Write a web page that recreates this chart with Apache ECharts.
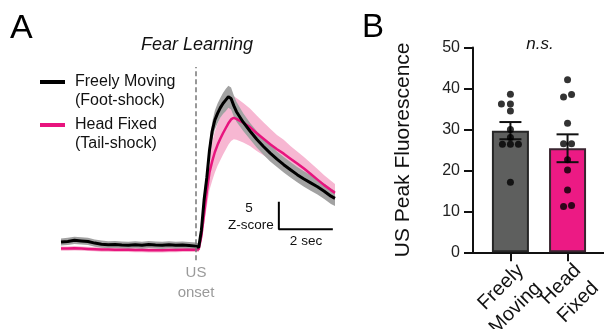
<!DOCTYPE html>
<html>
<head>
<meta charset="utf-8">
<script src="https://cdn.jsdelivr.net/npm/echarts@6/dist/echarts.min.js"></script>
<style>
html,body{margin:0;padding:0;background:#fff;}
#chart{width:604px;height:329px;}
</style>
</head>
<body>
<div id="chart"></div>
<script>
// ---------- Panel A data (time in s relative to US onset, Z-score) ----------
const timeSec = [-5,-4.75,-4.5,-4.25,-4,-3.75,-3.5,-3.25,-3,-2.75,-2.5,-2.25,-2,-1.75,-1.5,-1.25,-1,-0.75,-0.5,-0.25,0,
  0.1,0.2,0.3,0.4,0.5,0.6,0.7,0.8,0.9,1.0,1.1,1.2,1.3,1.4,1.5,
  1.75,2,2.25,2.5,2.75,3,3.25,3.5,3.75,4,4.25,4.5,4.75,5,5.15];
const freelyMean = [0.9,1.0,1.2,1.1,1.0,0.7,0.5,0.4,0.45,0.35,0.3,0.4,0.3,0.45,0.35,0.3,0.4,0.3,0.35,0.25,0.15,
  -0.1,3,8.5,12.5,17.5,21,23,24.2,25.2,26,26.6,27.2,26.9,25.6,24.5,
  22.6,21.0,19.5,18.2,17.0,15.9,14.9,14.0,13.1,12.3,11.6,10.9,10.1,9.2,8.8];
const freelySem = [0.65,0.65,0.65,0.65,0.65,0.65,0.65,0.65,0.65,0.65,0.65,0.65,0.65,0.65,0.65,0.65,0.65,0.65,0.65,0.65,0.65,
  0.7,1.3,1.5,1.5,1.5,1.6,1.7,1.8,1.8,1.9,2.0,2.0,2.0,1.9,1.8,
  1.6,1.5,1.5,1.5,1.5,1.4,1.4,1.4,1.4,1.4,1.4,1.4,1.4,1.4,1.4];
const headMean = [-0.3,-0.3,-0.25,-0.3,-0.35,-0.4,-0.45,-0.45,-0.5,-0.5,-0.5,-0.55,-0.55,-0.6,-0.6,-0.6,-0.55,-0.55,-0.5,-0.5,-0.5,
  -0.4,2,6,10,13.5,15.5,17.2,18.5,19.6,20.6,21.5,22.4,23.1,23.4,23.2,
  22.5,21.7,20.6,19.6,18.6,17.7,16.9,16.0,15.1,14.2,13.2,12.2,11.2,10.3,9.8];
const headSem = [0.4,0.4,0.4,0.4,0.4,0.4,0.4,0.4,0.4,0.4,0.4,0.4,0.4,0.4,0.4,0.4,0.4,0.4,0.4,0.4,0.4,
  0.5,1.2,2.0,2.7,3.2,3.5,3.7,3.8,3.9,3.9,3.9,3.9,3.9,3.9,3.8,
  3.6,3.4,3.2,3.0,2.8,2.6,2.5,2.3,2.2,2.1,2.0,1.9,1.8,1.7,1.6];

// ---------- Panel B data ----------
const groups = ['Freely\nMoving', 'Head\nFixed'];
const peakMean = [29.7, 25.4];
const peakSem = [2.1, 3.4];
const freelyDots = [38.6, 36.2, 36.2, 34.5, 30.0, 28.0, 26.4, 26.4, 26.4, 17.1];
const headDots = [42.1, 37.9, 38.5, 31.5, 26.5, 26.5, 22.6, 20.1, 15.2, 11.2, 11.4];
const yTicksB = [0, 10, 20, 30, 40, 50];

// jitter (visual style only, px)
const freelyJitter = [0, -9, 0, 0, 0, 0, -8, 0, 8, 0];
const headJitter = [0, -4, 4, 0, -4, 4, 0, 0, 0, -4, 4];

const FONT = '"Liberation Sans", Arial, Helvetica, sans-serif';
const PINK = '#e8147e';
const PINK_BAND = '#f7b7d2';
const GREY_BAND = '#a2a2a2';

const pairs = (ys) => timeSec.map((t, i) => [t, ys[i]]);

// shaded mean ± SEM band as one polygon, placed through the axis scales
function bandSeries(mean, sem, color) {
  return {
    type: 'custom', xAxisIndex: 0, yAxisIndex: 0, silent: true,
    data: [[timeSec[0], mean[0]]],
    renderItem: function (params, api) {
      const up = timeSec.map((t, i) => api.coord([t, mean[i] + sem[i]]));
      const dn = timeSec.map((t, i) => api.coord([t, mean[i] - sem[i]])).reverse();
      return {type: 'polygon', shape: {points: up.concat(dn)}, style: {fill: color, stroke: null}};
    }
  };
}

// scale bar (2 s, 5 Z-score)
const sbT = 3.07, sbZ = 3.2, sbDt = 2, sbDz = 5;

const chart = echarts.init(document.getElementById('chart'), null, {renderer: 'canvas'});

const option = {
  animation: false,
  backgroundColor: '#fff',
  textStyle: {fontFamily: FONT},
  grid: [
    {left: 61, top: 67, width: 274, height: 193.2},
    {left: 473, top: 47.5, width: 133, height: 204.8}
  ],
  xAxis: [
    {gridIndex: 0, type: 'value', min: -5, max: 5.15, show: false},
    {gridIndex: 1, type: 'value', min: 0.345, max: 2.638,
      axisLine: {show: true, onZero: false, lineStyle: {color: '#111', width: 2}},
      axisTick: {show: true, length: 9, lineStyle: {color: '#111', width: 2}, customValues: [1, 2]},
      axisLabel: {show: false},
      splitLine: {show: false}}
  ],
  yAxis: [
    {gridIndex: 0, type: 'value', min: -2.4, max: 32.6, show: false},
    {gridIndex: 1, type: 'value', min: 0, max: 50, interval: 10,
      name: 'US Peak Fluorescence', nameLocation: 'middle', nameGap: 52,
      nameTextStyle: {fontSize: 21, color: '#111', fontFamily: FONT, padding: [0, 0, 7, 0]},
      axisLine: {show: true, lineStyle: {color: '#111', width: 2}},
      axisTick: {show: true, length: 9, lineStyle: {color: '#111', width: 2}},
      axisLabel: {fontSize: 16, color: '#222', margin: 13, fontFamily: FONT,
        formatter: (v) => yTicksB.includes(v) ? String(v) : ''},
      splitLine: {show: false}}
  ],
  series: [
    bandSeries(headMean, headSem, PINK_BAND),
    {type: 'line', xAxisIndex: 0, yAxisIndex: 0, data: pairs(headMean), symbol: 'none',
      lineStyle: {color: PINK, width: 2.5}},
    bandSeries(freelyMean, freelySem, GREY_BAND),
    {type: 'line', xAxisIndex: 0, yAxisIndex: 0, data: pairs(freelyMean), symbol: 'none',
      lineStyle: {color: '#000', width: 3},
      markLine: {silent: true, symbol: 'none', label: {show: false},
        lineStyle: {color: '#777', type: [5, 3], width: 1.5},
        data: [{xAxis: 0}]}},
    // scale bar
    {type: 'line', xAxisIndex: 0, yAxisIndex: 0, symbol: 'none',
      data: [[sbT, sbZ + sbDz], [sbT, sbZ], [sbT + sbDt, sbZ]],
      lineStyle: {color: '#000', width: 2}},
    // Panel B bars
    {type: 'bar', xAxisIndex: 1, yAxisIndex: 1, barWidth: 37,
      data: [
        {value: [1, peakMean[0]], itemStyle: {color: '#5e5f5e', borderColor: '#262626', borderWidth: 2}},
        {value: [2, peakMean[1]], itemStyle: {color: '#ec1a84', borderColor: '#3a2530', borderWidth: 2}}
      ]},
    // error bars
    {type: 'custom', xAxisIndex: 1, yAxisIndex: 1, z: 5,
      data: [[1, peakMean[0], peakSem[0]], [2, peakMean[1], peakSem[1]]],
      renderItem: function (params, api) {
        const x = api.value(0), m = api.value(1), e = api.value(2);
        const top = api.coord([x, m + e]);
        const bot = api.coord([x, m - e]);
        const st = {stroke: '#111', lineWidth: 2};
        return {type: 'group', children: [
          {type: 'line', shape: {x1: top[0], y1: top[1], x2: bot[0], y2: bot[1]}, style: st},
          {type: 'line', shape: {x1: top[0] - 11, y1: top[1], x2: top[0] + 11, y2: top[1]}, style: st},
          {type: 'line', shape: {x1: bot[0] - 11, y1: bot[1], x2: bot[0] + 11, y2: bot[1]}, style: st}
        ]};
      }},
    // dots
    {type: 'scatter', xAxisIndex: 1, yAxisIndex: 1, symbolSize: 7, z: 6,
      itemStyle: {color: '#000'},
      data: freelyDots.map((v, i) => ({value: [1, v], symbolOffset: [freelyJitter[i], 0]}))},
    {type: 'scatter', xAxisIndex: 1, yAxisIndex: 1, symbolSize: 7, z: 6,
      itemStyle: {color: '#000'},
      data: headDots.map((v, i) => ({value: [2, v], symbolOffset: [headJitter[i], 0]}))}
  ],
  graphic: [
    {type: 'text', left: 10, top: 12, style: {text: 'A', fontSize: 34, fill: '#000', fontFamily: FONT}},
    {type: 'text', left: 362, top: 11, style: {text: 'B', fontSize: 33, fill: '#000', fontFamily: FONT}},
    {type: 'text', x: 197, y: 45, style: {text: 'Fear Learning', fontSize: 18, fontStyle: 'italic', fill: '#111',
      fontFamily: FONT, align: 'center', verticalAlign: 'middle'}},
    {type: 'text', x: 540, y: 44, style: {text: 'n.s.', fontSize: 17, fontStyle: 'italic', fill: '#111',
      fontFamily: FONT, align: 'center', verticalAlign: 'middle'}},
    // legend
    {type: 'line', shape: {x1: 40, y1: 82, x2: 65, y2: 82}, style: {stroke: '#000', lineWidth: 4}},
    {type: 'text', x: 75, y: 82, style: {text: 'Freely Moving', fontSize: 16, fill: '#111', fontFamily: FONT, verticalAlign: 'middle'}},
    {type: 'text', x: 75, y: 101, style: {text: '(Foot-shock)', fontSize: 16, fill: '#111', fontFamily: FONT, verticalAlign: 'middle'}},
    {type: 'line', shape: {x1: 40, y1: 125, x2: 65, y2: 125}, style: {stroke: PINK, lineWidth: 4}},
    {type: 'text', x: 75, y: 125, style: {text: 'Head Fixed', fontSize: 16, fill: '#111', fontFamily: FONT, verticalAlign: 'middle'}},
    {type: 'text', x: 75, y: 144, style: {text: '(Tail-shock)', fontSize: 16, fill: '#111', fontFamily: FONT, verticalAlign: 'middle'}},
    // US onset
    {type: 'text', x: 196, y: 273, style: {text: 'US', fontSize: 15, fill: '#9a9a9a', fontFamily: FONT, align: 'center', verticalAlign: 'middle'}},
    {type: 'text', x: 196, y: 293, style: {text: 'onset', fontSize: 15, fill: '#9a9a9a', fontFamily: FONT, align: 'center', verticalAlign: 'middle'}},
    // scale bar labels
    {type: 'text', x: 249, y: 208, style: {text: '5', fontSize: 13.5, fill: '#111', fontFamily: FONT, align: 'center', verticalAlign: 'middle'}},
    {type: 'text', x: 251, y: 225, style: {text: 'Z-score', fontSize: 13.5, fill: '#111', fontFamily: FONT, align: 'center', verticalAlign: 'middle'}},
    {type: 'text', x: 306, y: 241, style: {text: '2 sec', fontSize: 13.5, fill: '#111', fontFamily: FONT, align: 'center', verticalAlign: 'middle'}}
  ]
};

chart.setOption(option);

// rotated category labels for panel B, anchored at the axis ticks
const labelGraphics = groups.map((g, i) => {
  const p = chart.convertToPixel({gridIndex: 1}, [i + 1, 0]);
  return {type: 'text', x: p[0] + 19, y: p[1] + 24, rotation: Math.PI / 4,
    style: {text: g, fontSize: 20, lineHeight: 25, fill: '#111', fontFamily: FONT,
      align: 'right', verticalAlign: 'middle'}};
});
chart.setOption({graphic: option.graphic.concat(labelGraphics)});
</script>
</body>
</html>
